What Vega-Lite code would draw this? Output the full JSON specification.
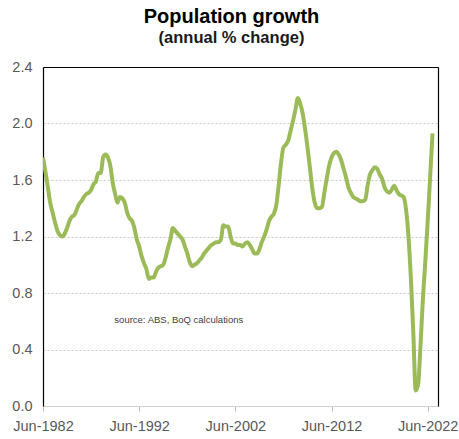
{
  "$schema": "https://vega.github.io/schema/vega-lite/v6.json",
  "autosize": "none",
  "width": 395,
  "height": 339,
  "padding": {"left": 43, "top": 67, "right": 21, "bottom": 33},
  "background": "white",
  "config": {"view": {"stroke": null}, "font": "Liberation Sans"},
  "title": {
    "text": "Population growth",
    "subtitle": "(annual % change)",
    "anchor": "middle",
    "frame": "group",
    "dx": -9,
    "offset": 13,
    "font": "Liberation Sans",
    "fontSize": 20,
    "fontWeight": "bold",
    "color": "#000000",
    "subtitleFont": "Liberation Sans",
    "subtitleFontSize": 16.5,
    "subtitleFontWeight": "bold",
    "subtitleColor": "#1a1a1a",
    "subtitlePadding": 3
  },
  "data": {
    "values": [
      {"d":"1982-06","v":1.76},{"d":"1982-09","v":1.66},{"d":"1982-12","v":1.55},
      {"d":"1983-03","v":1.44},{"d":"1983-06","v":1.37},{"d":"1983-09","v":1.30},{"d":"1983-12","v":1.24},
      {"d":"1984-03","v":1.21},{"d":"1984-06","v":1.20},{"d":"1984-09","v":1.22},{"d":"1984-12","v":1.26},
      {"d":"1985-03","v":1.31},{"d":"1985-06","v":1.34},{"d":"1985-09","v":1.35},{"d":"1985-12","v":1.39},
      {"d":"1986-03","v":1.43},{"d":"1986-06","v":1.45},{"d":"1986-09","v":1.48},{"d":"1986-12","v":1.50},
      {"d":"1987-03","v":1.51},{"d":"1987-06","v":1.53},{"d":"1987-09","v":1.57},{"d":"1987-12","v":1.59},
      {"d":"1988-03","v":1.65},{"d":"1988-06","v":1.65},{"d":"1988-09","v":1.76},{"d":"1988-12","v":1.78},
      {"d":"1989-03","v":1.76},{"d":"1989-06","v":1.70},{"d":"1989-09","v":1.58},{"d":"1989-12","v":1.50},
      {"d":"1990-03","v":1.44},{"d":"1990-06","v":1.48},{"d":"1990-09","v":1.47},{"d":"1990-12","v":1.44},
      {"d":"1991-03","v":1.37},{"d":"1991-06","v":1.33},{"d":"1991-09","v":1.31},{"d":"1991-12","v":1.26},
      {"d":"1992-03","v":1.18},{"d":"1992-06","v":1.13},{"d":"1992-09","v":1.06},{"d":"1992-12","v":1.01},
      {"d":"1993-03","v":0.97},{"d":"1993-06","v":0.90},{"d":"1993-09","v":0.91},{"d":"1993-12","v":0.91},
      {"d":"1994-03","v":0.95},{"d":"1994-06","v":0.98},{"d":"1994-09","v":0.99},{"d":"1994-12","v":1.00},
      {"d":"1995-03","v":1.05},{"d":"1995-06","v":1.12},{"d":"1995-09","v":1.18},{"d":"1995-12","v":1.26},
      {"d":"1996-03","v":1.24},{"d":"1996-06","v":1.22},{"d":"1996-09","v":1.20},{"d":"1996-12","v":1.18},
      {"d":"1997-03","v":1.13},{"d":"1997-06","v":1.08},{"d":"1997-09","v":1.02},{"d":"1997-12","v":0.99},
      {"d":"1998-03","v":1.00},{"d":"1998-06","v":1.01},{"d":"1998-09","v":1.03},{"d":"1998-12","v":1.05},
      {"d":"1999-03","v":1.08},{"d":"1999-06","v":1.10},{"d":"1999-09","v":1.12},{"d":"1999-12","v":1.14},
      {"d":"2000-03","v":1.15},{"d":"2000-06","v":1.16},{"d":"2000-09","v":1.16},{"d":"2000-12","v":1.18},
      {"d":"2001-03","v":1.28},{"d":"2001-06","v":1.27},{"d":"2001-09","v":1.27},{"d":"2001-12","v":1.20},
      {"d":"2002-03","v":1.15},{"d":"2002-06","v":1.15},{"d":"2002-09","v":1.14},{"d":"2002-12","v":1.14},
      {"d":"2003-03","v":1.13},{"d":"2003-06","v":1.15},{"d":"2003-09","v":1.16},{"d":"2003-12","v":1.14},
      {"d":"2004-03","v":1.11},{"d":"2004-06","v":1.08},{"d":"2004-09","v":1.08},{"d":"2004-12","v":1.11},
      {"d":"2005-03","v":1.16},{"d":"2005-06","v":1.20},{"d":"2005-09","v":1.25},{"d":"2005-12","v":1.31},
      {"d":"2006-03","v":1.34},{"d":"2006-06","v":1.36},{"d":"2006-09","v":1.42},{"d":"2006-12","v":1.56},
      {"d":"2007-03","v":1.72},{"d":"2007-06","v":1.83},{"d":"2007-09","v":1.85},{"d":"2007-12","v":1.88},
      {"d":"2008-03","v":1.95},{"d":"2008-06","v":2.02},{"d":"2008-09","v":2.10},{"d":"2008-12","v":2.18},
      {"d":"2009-03","v":2.14},{"d":"2009-06","v":2.07},{"d":"2009-09","v":1.96},{"d":"2009-12","v":1.83},
      {"d":"2010-03","v":1.69},{"d":"2010-06","v":1.54},{"d":"2010-09","v":1.44},{"d":"2010-12","v":1.40},
      {"d":"2011-03","v":1.40},{"d":"2011-06","v":1.41},{"d":"2011-09","v":1.51},{"d":"2011-12","v":1.61},
      {"d":"2012-03","v":1.70},{"d":"2012-06","v":1.76},{"d":"2012-09","v":1.79},{"d":"2012-12","v":1.80},
      {"d":"2013-03","v":1.78},{"d":"2013-06","v":1.74},{"d":"2013-09","v":1.68},{"d":"2013-12","v":1.62},
      {"d":"2014-03","v":1.55},{"d":"2014-06","v":1.51},{"d":"2014-09","v":1.48},{"d":"2014-12","v":1.47},
      {"d":"2015-03","v":1.46},{"d":"2015-06","v":1.45},{"d":"2015-09","v":1.45},{"d":"2015-12","v":1.46},
      {"d":"2016-03","v":1.56},{"d":"2016-06","v":1.64},{"d":"2016-09","v":1.67},{"d":"2016-12","v":1.69},
      {"d":"2017-03","v":1.68},{"d":"2017-06","v":1.64},{"d":"2017-09","v":1.61},{"d":"2017-12","v":1.55},
      {"d":"2018-03","v":1.52},{"d":"2018-06","v":1.51},{"d":"2018-09","v":1.53},{"d":"2018-12","v":1.56},
      {"d":"2019-03","v":1.53},{"d":"2019-06","v":1.50},{"d":"2019-09","v":1.49},{"d":"2019-12","v":1.48},
      {"d":"2020-03","v":1.39},{"d":"2020-06","v":1.20},{"d":"2020-09","v":0.90},{"d":"2020-12","v":0.52},
      {"d":"2021-03","v":0.11},{"d":"2021-06","v":0.15},{"d":"2021-09","v":0.43},{"d":"2021-12","v":0.76},
      {"d":"2022-03","v":1.02},{"d":"2022-06","v":1.31},{"d":"2022-09","v":1.62},{"d":"2022-12","v":1.93}
    ]
  },
  "resolve": {"axis": {"x": "independent", "y": "independent"}},
  "layer": [
    {
      "mark": {"type": "line", "color": "#9BBB59", "strokeWidth": 4, "interpolate": "monotone", "clip": true},
      "encoding": {
        "x": {
          "field": "d", "type": "temporal",
          "scale": {"type": "utc", "domain": [{"year": 1982, "month": 6, "date": 1, "utc": true}, {"year": 2023, "month": 6, "date": 27, "utc": true}]},
          "axis": {
            "title": null, "orient": "bottom",
            "values": [
              {"year": 1982, "month": 6, "date": 1, "utc": true},
              {"year": 1992, "month": 6, "date": 1, "utc": true},
              {"year": 2002, "month": 6, "date": 1, "utc": true},
              {"year": 2012, "month": 6, "date": 1, "utc": true},
              {"year": 2022, "month": 6, "date": 1, "utc": true}
            ],
            "labelExpr": "utcFormat(datum.value, '%b-%Y')",
            "labelFont": "Liberation Sans", "labelFontSize": 14.5, "labelColor": "#595959",
            "labelPadding": 8, "labelFlush": false, "labelOverlap": false,
            "domainColor": "#d0d0d0", "domainWidth": 1,
            "ticks": true, "tickSize": 5, "tickColor": "#bfbfbf",
            "grid": false
          }
        },
        "y": {
          "field": "v", "type": "quantitative",
          "scale": {"domain": [0, 2.4], "nice": false, "zero": true},
          "axis": {
            "title": null, "orient": "left",
            "values": [0, 0.4, 0.8, 1.2, 1.6, 2.0, 2.4],
            "format": ".1f",
            "labelFont": "Liberation Sans", "labelFontSize": 14.5, "labelColor": "#595959",
            "labelPadding": 11,
            "ticks": false,
            "domainColor": "#000000", "domainWidth": 1.2,
            "grid": true, "gridColor": "#c8c8c8", "gridDash": [2, 2], "gridWidth": 1
          }
        }
      }
    },
    {
      "mark": {"type": "line", "strokeOpacity": 0},
      "encoding": {
        "x": {
          "field": "d", "type": "temporal",
          "axis": {"orient": "top", "title": null, "labels": false, "ticks": false, "grid": false, "domainColor": "#000000", "domainWidth": 1.2, "zindex": 1}
        },
        "y": {
          "field": "v", "type": "quantitative",
          "axis": {"orient": "right", "title": null, "labels": false, "ticks": false, "grid": false, "domainColor": "#000000", "domainWidth": 1.2, "zindex": 1}
        }
      }
    },
    {
      "data": {"values": [{"note": "source:  ABS, BoQ calculations"}]},
      "mark": {"type": "text", "align": "left", "baseline": "middle", "font": "Liberation Sans", "fontSize": 9.5, "color": "#404040"},
      "encoding": {
        "x": {"datum": {"year": 1989, "month": 11, "date": 1, "utc": true}, "type": "temporal", "axis": null},
        "y": {"datum": 0.61, "type": "quantitative", "axis": null},
        "text": {"field": "note"}
      }
    }
  ]
}
